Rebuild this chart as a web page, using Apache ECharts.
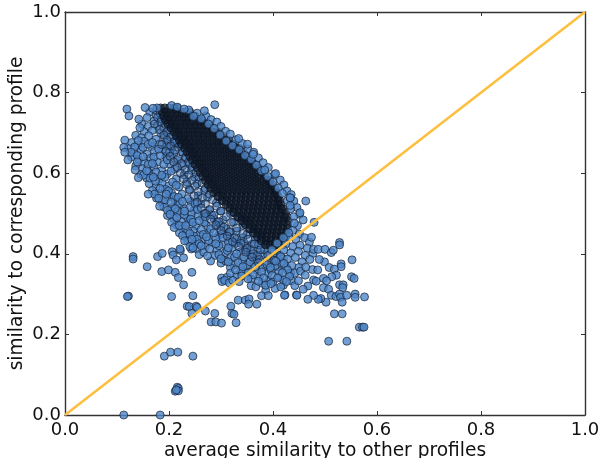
<!DOCTYPE html>
<html><head><meta charset="utf-8">
<script src="https://cdn.jsdelivr.net/npm/echarts@6/dist/echarts.min.js"></script>
<style>html,body{margin:0;padding:0;background:#fff}#c{width:600px;height:458px}</style>
</head><body><div id="c"></div>
<script>
const xTitle = 'average similarity to other profiles';
const yTitle = 'similarity to corresponding profile';
const diagonal = [[0,0],[1,1]];
// isolated points, read one by one [x, y]
const sparsePoints = [[.131,.393],[.131,.387],[.158,.368],[.178,.393],[.187,.401],[.206,.405],[.208,.397],[.221,.412],[.214,.385],[.228,.390],[.186,.356],[.199,.360],[.212,.354],[.218,.341],[.244,.354],[.228,.323],[.122,.295],[.120,.294],[.205,.294],[.246,.296],[.235,.270],[.239,.269],[.252,.270],[.254,.267],[.244,.252],[.270,.258],[.288,.252],[.281,.231],[.290,.231],[.301,.228],[.319,.270],[.321,.252],[.325,.250],[.329,.229],[.333,.285],[.347,.285],[.354,.288],[.353,.275],[.369,.275],[.378,.296],[.391,.296],[.423,.298],[.445,.298],[.191,.146],[.203,.156],[.217,.156],[.246,.146],[.216,.069],[.218,.066],[.212,.059],[.218,.060],[.214,.062],[.113,0],[.183,0],
[.463,.531],[.479,.478],[.452,.502],[.433,.539],[.433,.520],[.474,.441],[.528,.428],[.528,.422],[.478,.411],[.487,.411],[.500,.411],[.512,.403],[.516,.409],[.552,.385],[.531,.375],[.531,.368],[.499,.380],[.489,.386],[.471,.386],[.508,.366],[.518,.362],[.476,.361],[.486,.360],[.463,.367],[.551,.343],[.556,.339],[.522,.347],[.513,.343],[.497,.339],[.503,.333],[.478,.335],[.483,.332],[.462,.347],[.449,.333],[.528,.323],[.535,.323],[.534,.316],[.497,.316],[.507,.312],[.467,.320],[.458,.312],[.512,.297],[.521,.294],[.528,.300],[.530,.292],[.542,.297],[.558,.300],[.558,.292],[.576,.293],[.533,.280],[.502,.280],[.492,.289],[.487,.287],[.478,.297],[.467,.287],[.446,.297],[.422,.297],[.518,.251],[.533,.251],[.566,.218],[.572,.218],[.575,.218],[.507,.183],[.542,.183],
[.119,.759],[.123,.742],[.154,.763],[.169,.761],[.142,.734],[.144,.713],[.115,.682],[.113,.664],[.115,.652],[.121,.633],[.288,.770],[.268,.755],[.229,.759],[.160,.548],[.135,.608],[.141,.589],[.334,.686],[.384,.608],[.405,.599],[.433,.539],[.351,.672],[.362,.647]];
// left lobe of the cloud, under the dense core: [x, y] in thousandths
const lobePoints = [[163,752],[175,744],[158,738],[171,729],[186,735],[148,722],[160,716],[178,718],[193,722],[152,703],[168,706],[184,700],[199,709],[136,694],[147,688],[161,693],[175,684],[191,689],[207,695],[128,676],[140,670],[152,679],[166,666],[182,672],[198,678],[214,683],[122,661],[133,651],[146,658],[158,647],[172,654],[188,659],[205,664],[220,670],[128,640],[142,634],[153,626],[165,637],[178,628],[194,641],[209,648],[226,652],[136,618],[149,611],[160,603],[171,616],[186,607],[201,623],[216,632],[232,637],[146,597],[157,588],[168,594],[181,585],[196,598],[211,610],[226,618],[240,622],[162,574],[175,566],[187,576],[200,569],[214,586],[229,596],[243,607],[168,557],[181,549],[193,560],[205,551],[219,566],[234,578],[249,590],[176,538],[187,528],[199,541],[212,533],[225,548],[239,560],[254,574],[190,516],[203,506],[216,520],[229,512],[242,530],[256,544],[268,558],[197,495],[209,487],[222,499],[235,490],[248,508],[261,524],[274,540],[214,472],[226,463],[239,478],[252,469],[264,490],[278,508],[291,526],[220,452],[232,443],[246,457],[259,447],[272,470],[286,488],[299,506],[236,431],[250,425],[264,436],[277,452],[290,468],[304,484],[318,500],[254,412],[270,418],[283,428],[296,446],[310,462],[324,478],[336,490],[292,408],[304,424],[317,440],[330,456],[342,470],[352,482],[289,396],[308,403],[322,415],[336,431],[350,448],[362,461],[305,385],[320,393],[338,405],[352,420],[366,436],[376,447],[325,372],[341,383],[356,396],[370,410],[384,426],[345,360],[360,371],[374,386],[389,400],[402,414],[301,340],[312,342],[330,346],[352,352],[368,360],[386,372],[403,388],[302,331],[307,334],[316,328],[323,334],[335,331],[358,338],[374,344],[391,352],[410,368],[358,321],[367,318],[379,327],[392,333],[412,343],[386,309],[404,314],[420,322],[436,333],[300,377],[309,382],[318,366],[222,408],[243,412],[258,398],[280,382],
[141,681],[134,665],[127,652],[139,644],[150,664],[160,672],[171,640],[150,641],[160,622],[139,628],[175,603],[163,588],[190,622],[183,644],[201,652],[168,676],[197,633],[151,595],[174,580],[192,590],[207,578],[183,562],[199,556],[214,570],[172,548],[210,542],[193,534],[221,525],[206,515],[236,537],[217,505],[229,497],[205,478],[244,500],[224,479],[256,495],[236,458],[268,478],[248,444],[262,460],[276,433],[240,418],[290,438],[267,404],[302,450],[314,430],[328,426],[296,420],[342,440],[312,408],[326,392],[347,408],[360,424],[333,378],[350,372],[366,384],[380,398],[396,412],[380,366],[398,378],[408,398],[420,388],[338,356],[362,348],[378,355],[396,360],[412,356],
[180,538],[195,548],[204,528],[218,540],[182,518],[197,508],[212,512],[226,530],[240,515],[250,524],[202,498],[215,490],[230,506],[242,486],[255,510],[268,500],[210,465],[220,470],[232,470],[246,478],[258,482],[270,492],[282,497],[226,445],[240,450],[254,436],[266,448],[280,462],[293,478],[230,432],[244,436],[258,425],[272,442],[286,452],[300,470],[246,415],[262,420],[278,412],[290,425],[304,440],[318,455],[274,395],[296,398],[314,415],[330,436],[344,428],[300,388],[314,380],[330,400],[344,392],[358,410],[372,422],[318,352],[328,360],[342,368],[356,380],[370,396],[384,410],[340,345],[352,338],[366,368],[382,340],[398,346],[404,370],[416,378],[426,366],[372,332],[386,322],[400,330],[420,335],[434,352],[170,590],[186,595],[204,605],[157,606],[168,624],[180,660],[196,668],[212,675]];
// hatched zone along the band's lower-left side, under the core: [x, y]
const hatchPoints = [[176,756],[183,748],[178,738],[190,741],[184,727],[196,733],[172,722],[190,713],[203,721],[182,708],[196,702],[209,711],[190,695],[203,690],[216,699],[196,682],[210,678],[224,687],[186,671],[203,668],[218,665],[232,675],[194,654],[211,657],[226,652],[240,662],[202,642],[217,636],[232,640],[246,650],[209,628],[224,624],[238,628],[252,636],[216,614],[231,608],[245,616],[258,624],[222,600],[238,596],[252,602],[264,612],[228,586],[244,582],[258,590],[270,600],[234,572],[250,568],[264,576],[276,586],[240,558],[256,554],[270,562],[282,572],[248,544],[264,538],[278,548],[290,558],[254,528],[270,524],[284,534],[297,544],[262,514],[278,510],[292,518],[306,530],[270,500],[286,496],[300,506],[314,516],[280,486],[296,480],[310,492],[324,504],[290,472],[306,466],[320,478],[334,490],[300,458],[316,454],[330,464],[344,478],[312,444],[326,440],[342,450],[356,462],[322,430],[338,426],[352,436],[366,450],[334,418],[350,414],[364,424],[378,438],[348,404],[362,400],[376,410],[390,424],[360,392],[374,386],[390,396],[402,408],[372,378],[388,374],[402,384],[414,396]];
// dense band: rows of [y, x values], thousandths
const coreRows = [
[762,[184,192,201,210,216]],[752,[187,195,204,213,222,231,240]],[742,[190,198,207,216,225,233,242,250]],
[732,[193,202,211,220,229,238,247,256,264]],[722,[198,207,216,225,234,243,252,261,270,276]],
[712,[204,213,222,231,240,249,258,267,276,285]],[702,[210,219,228,237,246,255,264,273,282,291,296]],
[692,[214,223,232,241,250,259,268,277,286,295,304]],[682,[220,229,238,247,256,265,274,283,292,301,310,315]],
[672,[224,233,242,251,260,269,278,287,296,305,314,323]],[662,[230,239,248,257,266,275,284,293,302,311,320,329,335]],
[652,[235,244,253,262,271,280,289,298,307,316,325,334,343]],[642,[240,249,258,267,276,285,294,303,312,321,330,339,348]],
[632,[245,254,263,272,281,290,299,308,317,326,335,344,353,358]],[622,[250,259,268,277,286,295,304,313,322,331,340,349,358,365]],
[612,[255,264,273,282,291,300,309,318,327,336,345,354,363,372]],[602,[260,269,278,287,296,305,314,323,332,341,350,359,368,378]],
[592,[265,274,283,292,301,310,319,328,337,346,355,364,373,384]],[582,[270,279,288,297,306,315,324,333,342,351,360,369,378,388,394]],
[572,[275,284,293,302,311,320,329,338,347,356,365,374,383,392,398]],[562,[280,289,298,307,316,325,334,343,352,361,370,379,388,397,404]],
[552,[286,295,304,313,322,331,340,349,358,367,376,385,394,403,407]],[542,[294,303,312,321,330,339,348,357,366,375,384,393,402,410]],
[532,[302,311,320,329,338,347,356,365,374,383,392,401,410,413]],[522,[310,319,328,337,346,355,364,373,382,391,400,409,415]],
[512,[317,326,335,344,353,362,371,380,389,398,407,416,420]],[502,[325,334,343,352,361,370,379,388,397,406,415,424]],
[492,[332,341,350,359,368,377,386,395,404,413,422,427]],[482,[340,349,358,367,376,385,394,403,412,421,430]],
[472,[347,356,365,374,383,392,401,410,419,428]],[462,[355,364,373,382,391,400,409,418,428]],
[452,[362,371,380,389,398,407,416,426]],[442,[370,379,388,397,406,415,424]],[432,[378,387,396,405,414,422]],[422,[386,395,404,412,419]]];
// blue rim drawn over the band and lower-right spread: [x, y] in thousandths
const rimPoints = [[238,757],[254,749],[271,742],[281,733],[292,727],[300,716],[309,704],[318,697],[329,683],[341,674],[352,660],[363,652],[372,638],[381,626],[391,614],[403,597],[414,583],[421,571],[427,556],[435,547],[440,531],[446,515],[451,498],[458,484],[440,492],[447,470],[438,458],[451,449],[431,441],[444,436],[461,440],[470,429],[425,425],[438,418],[452,421],[466,414],[421,409],[434,402],[449,406],[462,396],[477,401],[415,393],[428,387],[443,391],[456,380],[421,376],[436,371],[450,366],[428,360],[442,352],[418,353],[432,344],[453,357],[409,340],[426,331],[442,321],[396,326],[415,318],[177,762],[205,768],[216,764],
[247,741],[262,735],[276,722],[287,711],[298,695],[310,680],[322,668],[335,658],[346,644],[358,634],[368,620],[378,606],[390,592],[400,578],[410,563],[418,550],[428,532],[434,512],[441,476],[430,452],[420,440],[408,426],[398,410],[405,382],[395,366]];

function expandRows(rows){const out=[];for(const r of rows)for(const x of r[1])out.push([x/1000,r[0]/1000]);return out;}
const toUnit=p=>p.map(q=>[q[0]/1000,q[1]/1000]);
const fill='#4f87c9', edge='rgba(18,28,45,0.85)', font='"DejaVu Sans"';
const base={type:'scatter',symbolSize:8,silent:true,animation:false,large:false,clip:false};
const blue={color:fill,borderColor:edge,borderWidth:1};
const chart=echarts.init(document.getElementById('c'),null,{renderer:'canvas'});
const side=(extra)=>Object.assign({min:0,max:1,interval:.2,splitLine:{show:false},
  axisLine:{show:true,onZero:false,lineStyle:{color:'#333',width:1.4}},
  axisTick:{show:true,inside:true,length:4,lineStyle:{color:'#333',width:1}}},extra);
const lab={color:'#111',fontFamily:font,fontSize:18,formatter:v=>v.toFixed(1)};
chart.setOption({
  animation:false,
  grid:{left:65,top:12,width:520,height:403,outerBoundsMode:'none'},
  xAxis:[side({type:'value',position:'bottom',axisLabel:Object.assign({margin:6},lab),name:xTitle,nameLocation:'middle',nameGap:27,nameMoveOverlap:false,nameTextStyle:{color:'#111',fontFamily:font,fontSize:18.6}}),
         side({type:'value',position:'top',axisLabel:{show:false}})],
  yAxis:[side({type:'value',position:'left',axisLabel:Object.assign({margin:4},lab),name:yTitle,nameLocation:'middle',nameGap:38,nameMoveOverlap:false,nameTextStyle:{color:'#111',fontFamily:font,fontSize:18.6}}),
         side({type:'value',position:'right',axisLabel:{show:false}})],
  series:[
    Object.assign({},base,{data:toUnit(lobePoints),itemStyle:blue}),
    Object.assign({},base,{data:toUnit(hatchPoints),itemStyle:{color:'rgba(60,105,165,0.55)',borderColor:edge,borderWidth:1}}),
    Object.assign({},base,{data:expandRows(coreRows),itemStyle:{color:'rgba(16,26,42,0.8)',borderColor:'rgba(10,16,28,0.9)',borderWidth:1}}),
    Object.assign({},base,{data:toUnit(rimPoints),itemStyle:blue}),
    Object.assign({},base,{data:sparsePoints,itemStyle:blue}),
    {type:'line',data:diagonal,symbol:'none',silent:true,animation:false,lineStyle:{color:'#fcbf3e',width:2.6}}
  ]
});
</script></body></html>
